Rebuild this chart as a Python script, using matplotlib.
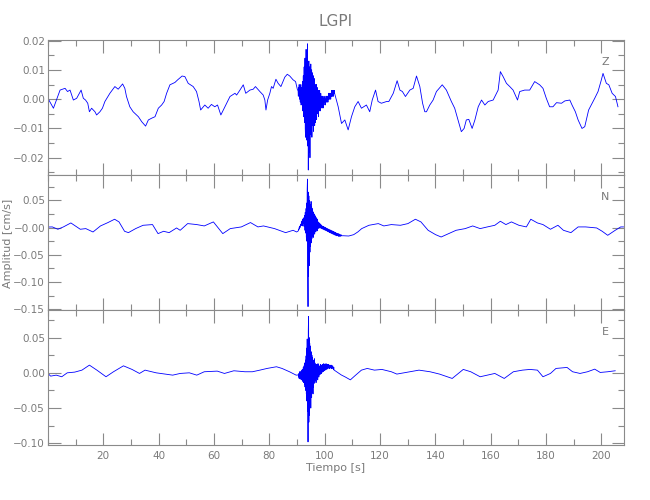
import numpy as np
import matplotlib
matplotlib.use('Agg')
import matplotlib.pyplot as plt
from matplotlib.ticker import FixedLocator, MultipleLocator

# values, amplitude in 0.001 cm/s, time in s
# slow parts are (time, value) pairs, bursts are sampled every 0.1 s

z_pre = [(0, 0.3), (2.0, -3.1), (4.4, 3.1), (6.2, 3.7), (7.1, 2.6), (8.0, 3.1), (9.2, -0.3),
         (10.4, 0.3), (12.0, 3.1), (12.8, 0.3), (13.6, -0.3), (14.4, -1.4), (15.0, -4.3),
         (15.8, -3.1), (17.0, -4.3), (17.6, -5.4), (18.8, -4.3), (19.7, -3.1), (20.6, -0.8),
         (22.4, 2.0), (24.2, 4.3), (25.4, 3.4), (27.0, 5.2), (27.8, 3.7), (28.4, 0.9),
         (29.6, -2.6), (30.8, -4.3), (32.7, -6.0), (33.9, -7.7), (35.3, -9.2), (36.3, -7.1),
         (37.5, -6.5), (38.7, -6.0), (39.9, -3.1), (41.1, -2.0), (42.0, -0.8), (42.9, 2.0),
         (44.1, 4.9), (45.9, 5.7), (46.9, 6.6), (48.5, 7.9), (49.5, 7.7), (50.7, 5.4),
         (52.5, 4.3), (53.7, 2.6), (54.6, -0.8), (55.2, -3.7), (56.7, -2.0), (57.9, -3.1),
         (59.1, -1.8), (60.3, -2.6), (61.3, -2.0), (62.5, -5.4), (63.4, -3.7), (64.6, -1.4),
         (65.8, 0.9), (67.6, 2.0), (68.2, 1.4), (69.4, 3.1), (70.6, 4.9), (71.5, 2.0),
         (73.0, 3.1), (74.2, 3.4), (75.0, 4.3), (76.6, 2.6), (77.8, 1.4), (78.4, -0.3),
         (78.8, -3.7), (79.4, -0.3), (80.2, 2.0), (80.8, 4.3), (81.4, 3.7), (82.4, 6.8),
         (83.2, 5.4), (84.2, 4.3), (85.6, 7.5), (86.5, 8.5), (87.4, 7.9), (88.6, 6.6),
         (89.5, 6.0), (90.2, 3.1)]
z_burst_t0 = 90.4
z_burst = [3, 1, 4, 2, 5, 0, 3, 4, -1, 2, 5, -2, 1, 4, -1, 3,
           6, -4, 2, 8, -6, -2, 11, -8, 4, 14,
           -10, -13, 6, 17, -9, 2, -14, 10, 18.9, -16,
           4, -24.2, -6, 13, -18, 11, 3, -20, 9, -12,
           12, -11, -4, 10, -13, 5, 9, -9, -2, 8,
           -11, 6, -3, 7, -9, 2, 5, -8, 4, -6,
           5, -7, 1, 4, -5, 2, -3, 3, -6, 1,
           2, -4, 3, -3, 0, -4, 2, -2, -3, 1,
           0, -2, -3, 1, -1, -3, 0, -2, 1, -1,
           -1, 0, -2, 0, -1, 1, -1, 0, 1, -1,
           0, 1, -1, 1, 0, 2, 0, 1, 2, 0,
           1, 2, 0, 2, 1, 3, 1, 2, 3, 1,
           2, 3, 1, 3, 2, 3, 2]
z_post = [(104.9, -2.6), (106.1, -8.3), (107.3, -7.1), (108.5, -10.5), (109.7, -6.0),
          (110.9, -2.6), (112.1, -0.8), (113.3, -3.1), (115.1, -2.0), (116.3, -4.3),
          (117.2, -0.3), (118.4, 3.1), (119.3, -0.8), (120.5, -1.4), (122.4, -0.8),
          (123.2, -0.8), (124.8, 2.0), (126.2, 6.3), (127.2, 3.1), (128.1, 2.6), (129.2, 0.9),
          (130.8, 3.1), (132.0, 3.7), (133.2, 7.9), (134.4, 4.3), (135.4, -1.4), (136.2, -4.3),
          (136.8, -4.3), (138.0, -2.0), (139.2, -0.3), (140.4, 2.6), (142.5, 4.9), (144.0, 3.1),
          (145.8, -0.8), (147.0, -3.1), (148.2, -7.1), (149.4, -11.1), (150.4, -10.0),
          (151.2, -7.1), (152.1, -6.9), (153.3, -10.0), (154.3, -7.1), (155.5, -2.6),
          (156.7, -0.3), (157.9, -2.0), (159.1, -0.8), (160.9, -0.3), (162.7, 3.1), (163.5, 9.4),
          (164.5, 7.7), (165.7, 5.4), (166.9, 4.3), (168.1, 3.1), (169.7, -0.3), (170.5, 2.6),
          (172.3, 3.1), (174.1, 3.1), (175.9, 6.0), (177.7, 4.9), (178.9, 3.7), (180.1, 0.3),
          (181.3, -2.6), (182.5, -2.6), (183.8, -1.2), (185.6, -1.4), (186.8, -0.6),
          (188.6, -0.3), (189.4, -2.0), (190.6, -4.3), (191.6, -7.1), (193.0, -10.0),
          (194.0, -9.4), (195.4, -3.7), (197.6, 0.3), (198.8, 2.6), (200.0, 6.6), (200.6, 8.8),
          (201.8, 5.4), (202.7, 4.9), (203.9, 2.0), (205.1, 0.9), (206.0, -2.6)]

n_pre = [(0, 1.0), (1.6, 1.2), (3.6, -3.1), (5.6, 1.2), (8.3, 8.5), (11.7, -3.1), (13.7, -1.9),
         (16.3, -8.1), (19.0, 3.0), (21.7, 9.2), (24.1, 15.3), (25.7, 10.4), (27.7, -6.8),
         (29.1, -9.3), (31.7, -1.9), (34.4, 4.2), (37.8, 5.5), (39.8, -11.1), (41.8, -6.8),
         (43.8, -9.3), (46.5, -0.7), (47.8, -5.0), (50.5, 7.3), (53.8, 5.5), (56.5, 3.0),
         (59.8, 10.4), (63.2, -11.1), (65.9, -1.9), (69.9, 1.2), (73.2, 9.2), (75.9, 1.2),
         (77.9, 3.0), (81.9, -1.9), (85.9, -9.3), (88.6, -5.0), (89.9, -8.1)]
n_burst_t0 = 90.5
n_burst = [-6, -3, -4, 0, -2, 2, 0, 4, 3, 6,
           5, 9, 4, 12, 6, 14, 3, 16, 8, 11,
           18, 2, 10, 22, -5, 28, -10, 15, 35, -18,
           45, -25, 70, 89, -60, -145, 65, -90, 58, -70,
           50, 10, -45, 42, -35, 20, 48, -28, 38, -20,
           35, -15, 30, 5, -18, 28, -10, 25, 2, -12,
           22, -6, 20, -8, 10, 18, -4, 16, -6, 15,
           11, -2, 10, 1, 9, -1, 8, 2, 7, 0,
           6, -1, 5, 0, 4, -2, 3, -1, 2, -3,
           2, -2, 0, -4, 1, -3, -1, -5, 0, -4,
           -2, -6, -1, -5, -3, -7, -2, -6, -4, -8,
           -3, -7, -5, -9, -4, -8, -6, -10, -5, -9,
           -7, -11, -6, -10, -8, -12, -7, -11, -9, -13,
           -8, -12, -10, -14, -9, -13, -11, -15, -10, -14,
           -11, -15, -12, -14, -11, -16, -13, -15, -12, -16,
           -13, -15, -14, -16, -13, -15]
n_post = [(106.8, -15.0), (108.7, -15.5), (110.5, -13.0), (112.0, -8.0), (113.4, -1.9),
          (116.0, 4.2), (119.4, 7.3), (121.4, 3.0), (124.1, 5.5), (127.4, 4.2), (130.1, 7.3),
          (132.8, 15.3), (134.8, 10.4), (137.4, -5.0), (140.1, -13.0), (142.1, -17.3),
          (144.8, -11.1), (147.5, -5.0), (150.8, -1.9), (153.5, 3.0), (156.2, -1.9),
          (158.8, 1.2), (161.5, 4.2), (163.5, 11.6), (165.5, 5.5), (167.5, 10.4), (170.2, 4.2),
          (172.9, 1.2), (174.5, 15.3), (176.9, 8.5), (178.9, 5.5), (181.6, -3.1), (184.3, 4.2),
          (186.3, -5.0), (189.0, -9.3), (191.6, 1.2), (194.3, 1.2), (198.3, -0.7),
          (200.3, -6.8), (202.3, -14.2), (205.0, -5.0), (207.0, 1.2), (208.0, 1.2)]

e_pre = [(0, -0.9), (1.0, -4.7), (3.0, -3.3), (5.0, -5.6), (7.0, 0.0), (9.7, 1.0), (12.3, 3.8),
         (15.0, 10.9), (17.7, 3.8), (21.0, -5.6), (23.7, 1.5), (27.3, 9.9), (30.4, 4.8),
         (33.1, -0.9), (35.1, 3.8), (39.1, 0.0), (42.4, -1.8), (45.1, -3.3), (47.8, -0.9),
         (51.1, 0.0), (53.8, -3.3), (56.5, 1.5), (61.2, 2.4), (63.8, -0.9), (67.2, 2.9),
         (71.2, 1.5), (73.9, 1.5), (76.6, 3.8), (79.2, 6.2), (82.6, 8.6), (84.6, 6.2),
         (87.3, 1.5), (89.7, -3.3)]
e_burst_t0 = 90.5
e_burst = [-3, -6, -1, -8, 0, -5, 2, -9, 1, -4,
           -7, 2, -10, 4, -2, -12, 5, -8, 8, -14,
           6, 10, -16, 14, -20, 4, 18, -25, 24, -30,
           35, -40, 48, -55, 40, -98, 60, 80, -70, 50,
           -60, 42, 5, -45, 38, -50, 30, -10, -35, 25,
           -28, 22, 3, -30, 18, -20, 16, -15, 20, -12,
           14, -10, 2, 12, -14, 10, -8, 12, -6, 10,
           -10, 13, -4, 11, -6, 9, 4, -3, 10, -2,
           12, 0, 9, -1, 11, 2, 10, 1, 12, 3,
           10, 2, 13, 4, 11, 3, 12, 5, 11, 4,
           13, 6, 10, 5, 12, 7, 11, 6, 12, 8,
           10, 7, 11, 6, 9, 8, 10, 7, 11, 6,
           10, 8, 9, 7, 10, 6, 8, 5, 8, 4]
e_post = [(104.5, 1.0), (106.0, -3.0), (107.5, -6.0), (109.3, -10.0), (111.0, -4.0),
          (113.3, 3.8), (115.4, 6.2), (118.0, 3.8), (120.7, 4.8), (124.1, 1.5), (126.1, -1.8),
          (130.8, 1.5), (134.1, 3.8), (138.1, 1.5), (141.5, -1.8), (146.1, -8.0), (150.1, 4.8),
          (152.8, 1.5), (156.2, -5.6), (158.8, -3.3), (161.5, -0.9), (164.9, -8.0),
          (168.2, 1.5), (171.5, 3.8), (174.2, 4.8), (176.9, 3.8), (178.9, -5.6), (181.6, -0.9),
          (183.6, 6.2), (187.6, 7.6), (189.6, 1.5), (192.3, -0.9), (195.0, 1.5), (197.6, 5.2),
          (199.6, 0.5), (202.3, 1.5), (205.0, 2.9)]

components = ['Z', 'N', 'E']
ylims = [(-0.0259, 0.0202), (-0.1513, 0.0965), (-0.1024, 0.0891)]
yticks = [[-0.02, -0.01, 0.0, 0.01, 0.02],
          [-0.15, -0.10, -0.05, 0.0, 0.05],
          [-0.10, -0.05, 0.0, 0.05]]
yticklabels = [['\u22120.02', '\u22120.01', '0.00', '0.01', '0.02'],
               ['\u22120.15', '\u22120.10', '\u22120.05', '\u22120.00', '0.05'],
               ['\u22120.10', '\u22120.05', '0.00', '0.05']]
yminor = [0.005, 0.025, 0.025]
xticks = [20, 40, 60, 80, 100, 120, 140, 160, 180, 200]


def build_trace(pre, burst, t0, post):
    t = [p[0] for p in pre]
    v = [p[1] for p in pre]
    t += list(t0 + 0.1 * np.arange(len(burst)))
    v += list(burst)
    t += [p[0] for p in post]
    v += [p[1] for p in post]
    return np.array(t), np.array(v) * 0.001


traces = [build_trace(z_pre, z_burst, z_burst_t0, z_post),
          build_trace(n_pre, n_burst, n_burst_t0, n_post),
          build_trace(e_pre, e_burst, e_burst_t0, e_post)]

grey = '#8a8a8a'
txt = '#7a7a7a'
font = ['DejaVu Sans']

fig = plt.figure(figsize=(6.5, 5), dpi=100)
left, width = 47.9 / 650, 575.6 / 650
bottoms = [1 - 175 / 500, 1 - 310 / 500, 1 - 445 / 500]
height = 135 / 500

for i, comp in enumerate(components):
    ax = fig.add_axes([left, bottoms[i], width, height])
    t, v = traces[i]
    ax.plot(t, v, color='#0000ff', lw=0.6)
    ax.set_xlim(0, 208)
    ax.set_ylim(*ylims[i])
    ax.xaxis.set_major_locator(FixedLocator(xticks))
    ax.xaxis.set_minor_locator(MultipleLocator(10))
    ax.yaxis.set_major_locator(FixedLocator(yticks[i]))
    ax.yaxis.set_minor_locator(MultipleLocator(yminor[i]))
    ax.set_yticklabels(yticklabels[i], family=font, color=txt, fontsize=7.5)
    ax.tick_params(which='both', direction='in', top=True, right=True, color=grey, width=0.8)
    ax.tick_params(which='major', length=9)
    ax.tick_params(which='minor', length=4.5)
    ax.tick_params(axis='y', pad=2)
    for s in ax.spines.values():
        s.set_color(grey)
        s.set_linewidth(0.8)
    ax.text(0.968, 0.837, comp, transform=ax.transAxes, ha='center', va='center',
            color=txt, fontsize=8, family=font)
    if i < 2:
        ax.set_xticklabels([])
    else:
        ax.set_xticklabels([str(x) for x in xticks], family=font, color=txt, fontsize=7.5)
        ax.tick_params(axis='x', pad=4)

fig.text(0.5165, 1 - 21 / 500, 'LGPI', ha='center', va='center', color=txt,
         fontsize=11, family=font)
fig.text(0.5165, 1 - 468 / 500, 'Tiempo [s]', ha='center', va='center', color=txt,
         fontsize=8, family=font)
fig.text(8 / 650, 1 - 243 / 500, 'Amplitud [cm/s]', ha='center', va='center',
         rotation=90, color=txt, fontsize=8, family=font)

fig.savefig('out.png', dpi=100)
